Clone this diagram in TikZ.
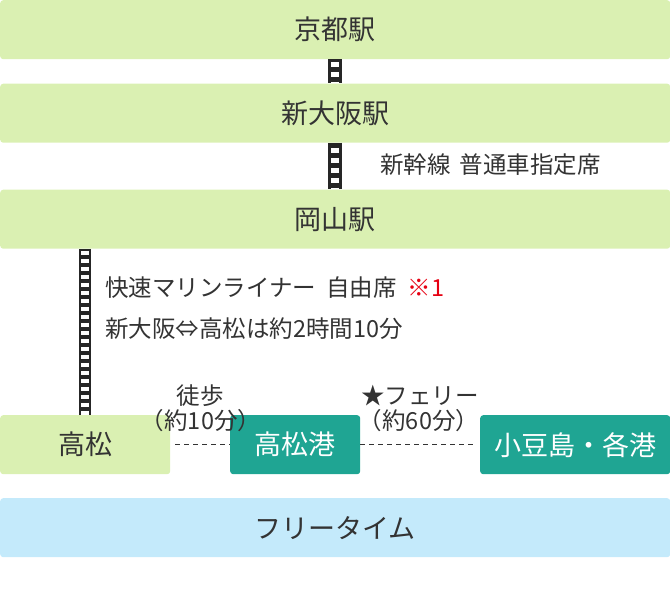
\documentclass[tikz,border=0pt]{standalone}
\usepackage{fontspec}
\setmainfont{Noto Sans CJK JP}
\definecolor{lgreen}{HTML}{DAF0B2}
\definecolor{teal2}{HTML}{1FA593}
\definecolor{lblue}{HTML}{C4EAFB}
\definecolor{txt}{HTML}{333333}
\definecolor{red2}{HTML}{E60012}
\tikzset{
  box/.style={rounded corners=3pt, minimum height=59pt, inner sep=0pt, anchor=north west,
    font=\fontsize{27}{27}\selectfont, text=txt},
  greenbox/.style={box, fill=lgreen},
  tealbox/.style={box, fill=teal2, text=white},
  bluebox/.style={box, fill=lblue},
  lbl/.style={inner sep=0pt, font=\fontsize{23.5}{23.5}\selectfont, text=txt},
  trackouter/.style={draw=black!85, line width=#1},
  trackinner/.style={draw=white, line width=8pt},
  walk/.style={draw=txt, line width=1.3pt, dash pattern=on 5pt off 4pt},
}
\begin{document}
\begin{tikzpicture}[x=1pt,y=-1pt]
\useasboundingbox (0,0) rectangle (670,615);
\node[greenbox, minimum width=670pt] (kyoto) at (0,0) {京都駅};
\node[greenbox, minimum width=670pt] (osaka) at (0,83.5) {新大阪駅};
\node[greenbox, minimum width=670pt] (okayama) at (0,189.5) {岡山駅};
\node[greenbox, minimum width=170pt] (takamatsu) at (0,415) {高松};
\node[tealbox, minimum width=130pt] (port) at (230,415) {高松港};
\node[tealbox, minimum width=190pt] (shodo) at (480,415) {小豆島・各港};
\node[bluebox, minimum width=670pt] (free) at (0,498) {フリータイム};

% tracks
\draw[trackouter=14pt] (kyoto.south) -- (osaka.north);
\draw[trackinner, dash pattern=on 5pt off 5pt, dash phase=7pt] (kyoto.south) -- (osaka.north);
\draw[trackouter=14pt] (osaka.south) -- (okayama.north);
\draw[trackinner, dash pattern=on 5pt off 5pt, dash phase=5pt] (osaka.south) -- (okayama.north);
\draw[trackouter=12pt] (okayama.south -| takamatsu.north) -- (takamatsu.north);
\draw[trackinner, dash pattern=on 4pt off 4pt, dash phase=6pt] (okayama.south -| takamatsu.north) -- (takamatsu.north);

% dashed walking / ferry links
\draw[walk] ([xshift=5pt]takamatsu.east) -- (port.west);
\draw[walk] (port.east) -- ([xshift=-3pt]shodo.west);

% labels
\node[lbl, anchor=base west] (l1) at (380,174) {新幹線\hspace{9pt}普通車指定席};
\node[lbl, anchor=base west] (l2) at (105,296) {快速マリンライナー\hspace{10pt}自由席\hspace{11pt}\textcolor{red2}{※1}};
\node[lbl, anchor=base west] (l3) at (105,337) {新大阪⇔高松は約2時間10分};
\node[lbl, anchor=base] (w1) at (200,404) {徒歩};
\node[lbl, anchor=base] (w2) at (201,429) {（約10分）};
\node[lbl, anchor=base] (f1) at (420,404) {★フェリー};
\node[lbl, anchor=base] (f2) at (419,429) {（約60分）};
\end{tikzpicture}
\end{document}
